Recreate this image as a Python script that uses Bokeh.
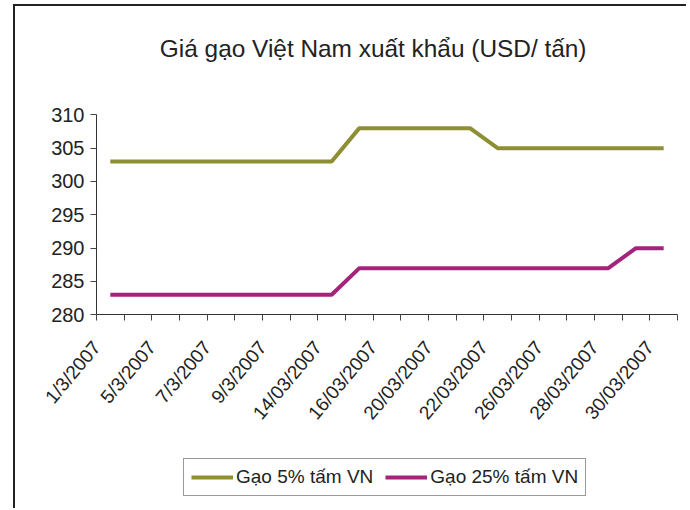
import math
from bokeh.plotting import figure
from bokeh.models import Range1d, FixedTicker, Legend, LegendItem, Label
from bokeh.embed import file_html
from bokeh.resources import INLINE

# ---- data ----
dates = ["1/3/2007", "2/3/2007", "5/3/2007", "6/3/2007", "7/3/2007", "8/3/2007",
         "9/3/2007", "13/03/2007", "14/03/2007", "15/03/2007", "16/03/2007",
         "19/03/2007", "20/03/2007", "21/03/2007", "22/03/2007", "23/03/2007",
         "26/03/2007", "27/03/2007", "28/03/2007", "29/03/2007", "30/03/2007"]
gao_5 = [303, 303, 303, 303, 303, 303, 303, 303, 303, 308, 308, 308, 308, 308,
         305, 305, 305, 305, 305, 305, 305]
gao_25 = [283, 283, 283, 283, 283, 283, 283, 283, 283, 287, 287, 287, 287, 287,
          287, 287, 287, 287, 287, 290, 290]
y_ticks = [280, 285, 290, 295, 300, 305, 310]
series_names = ["Gạo 5% tấm VN", "Gạo 25% tấm VN"]
title_text = "Giá gạo Việt Nam xuất khẩu (USD/ tấn)"

n = len(dates)
xs = [i + 0.5 for i in range(n)]
y_lo, y_hi = y_ticks[0], y_ticks[-1]

FONT = "Liberation Sans"
TXT = "#222222"

# ---- layout: canvas 673x504, plot area 581x200 px placed inside it ----
W, H = 673, 504
PL, PT, PW, PH = 81, 108.3, 581, 200   # plot-area offset/size inside canvas (px)
ux = PW / n                 # px per category
uy = PH / (y_hi - y_lo)     # px per value unit
x_range = Range1d(-PL / ux, n + (W - PL - PW) / ux)
y_range = Range1d(y_lo - (H - PT - PH) / uy, y_hi + PT / uy)

p = figure(width=W, height=H, output_backend="svg", toolbar_location=None,
           x_range=x_range, y_range=y_range,
           min_border_left=0, min_border_right=0, min_border_top=0,
           min_border_bottom=0)
p.styles = {"margin-top": "4px", "margin-left": "13px", "margin-bottom": "-12px",
            "border-top": "2px solid #222222", "border-left": "2px solid #222222"}
p.outline_line_color = None
p.xgrid.visible = False
p.ygrid.visible = False
p.background_fill_color = "white"
p.border_fill_color = "white"

# x axis: tick marks between categories, labels on every second category
p.xaxis.fixed_location = y_lo
p.xaxis.bounds = (0, n)
p.xaxis.ticker = FixedTicker(ticks=list(range(0, n, 2)), minor_ticks=list(range(n + 1)))
p.xaxis.major_label_overrides = {i: dates[i] for i in range(0, n, 2)}
p.xaxis.major_label_orientation = math.radians(50)
p.xaxis.major_tick_out = 0
p.xaxis.major_tick_in = 0
p.xaxis.minor_tick_out = 6
p.xaxis.minor_tick_in = 0
p.xaxis.minor_tick_line_color = "#444444"
p.xaxis.axis_line_color = "#333333"
p.xaxis.major_label_text_font = FONT
p.xaxis.major_label_text_font_size = "19px"
p.xaxis.major_label_text_color = TXT
p.xaxis.major_label_standoff = 23

# y axis
p.yaxis.fixed_location = 0
p.yaxis.bounds = (y_lo, y_hi)
p.yaxis.ticker = FixedTicker(ticks=y_ticks, minor_ticks=[])
p.yaxis.major_tick_out = 6
p.yaxis.major_tick_in = 0
p.yaxis.major_tick_line_color = "#444444"
p.yaxis.axis_line_color = "#333333"
p.yaxis.major_label_text_font = FONT
p.yaxis.major_label_text_font_size = "20px"
p.yaxis.major_label_text_color = TXT
p.yaxis.major_label_standoff = 6

r1 = p.line(xs, gao_5, line_color="#8E8E32", line_width=4)
r2 = p.line(xs, gao_25, line_color="#A4237B", line_width=4)

# title
p.add_layout(Label(x=n / 2 - 0.5, y=y_hi + 66 / uy, text=title_text,
                   text_align="center", text_baseline="alphabetic",
                   text_font=FONT, text_font_size="24.4px", text_color=TXT))

legend = Legend(items=[LegendItem(label=series_names[0], renderers=[r1]),
                       LegendItem(label=series_names[1], renderers=[r2])],
                orientation="horizontal", location=(168, 14),
                label_text_font=FONT, label_text_font_size="19px",
                label_text_color=TXT, glyph_width=42, glyph_height=20,
                label_height=20, label_standoff=3, spacing=12, padding=7,
                margin=0, border_line_color="#333333", border_line_width=1,
                background_fill_alpha=1.0)
p.add_layout(legend, "center")

open("out.html", "w").write(file_html(p, INLINE))
